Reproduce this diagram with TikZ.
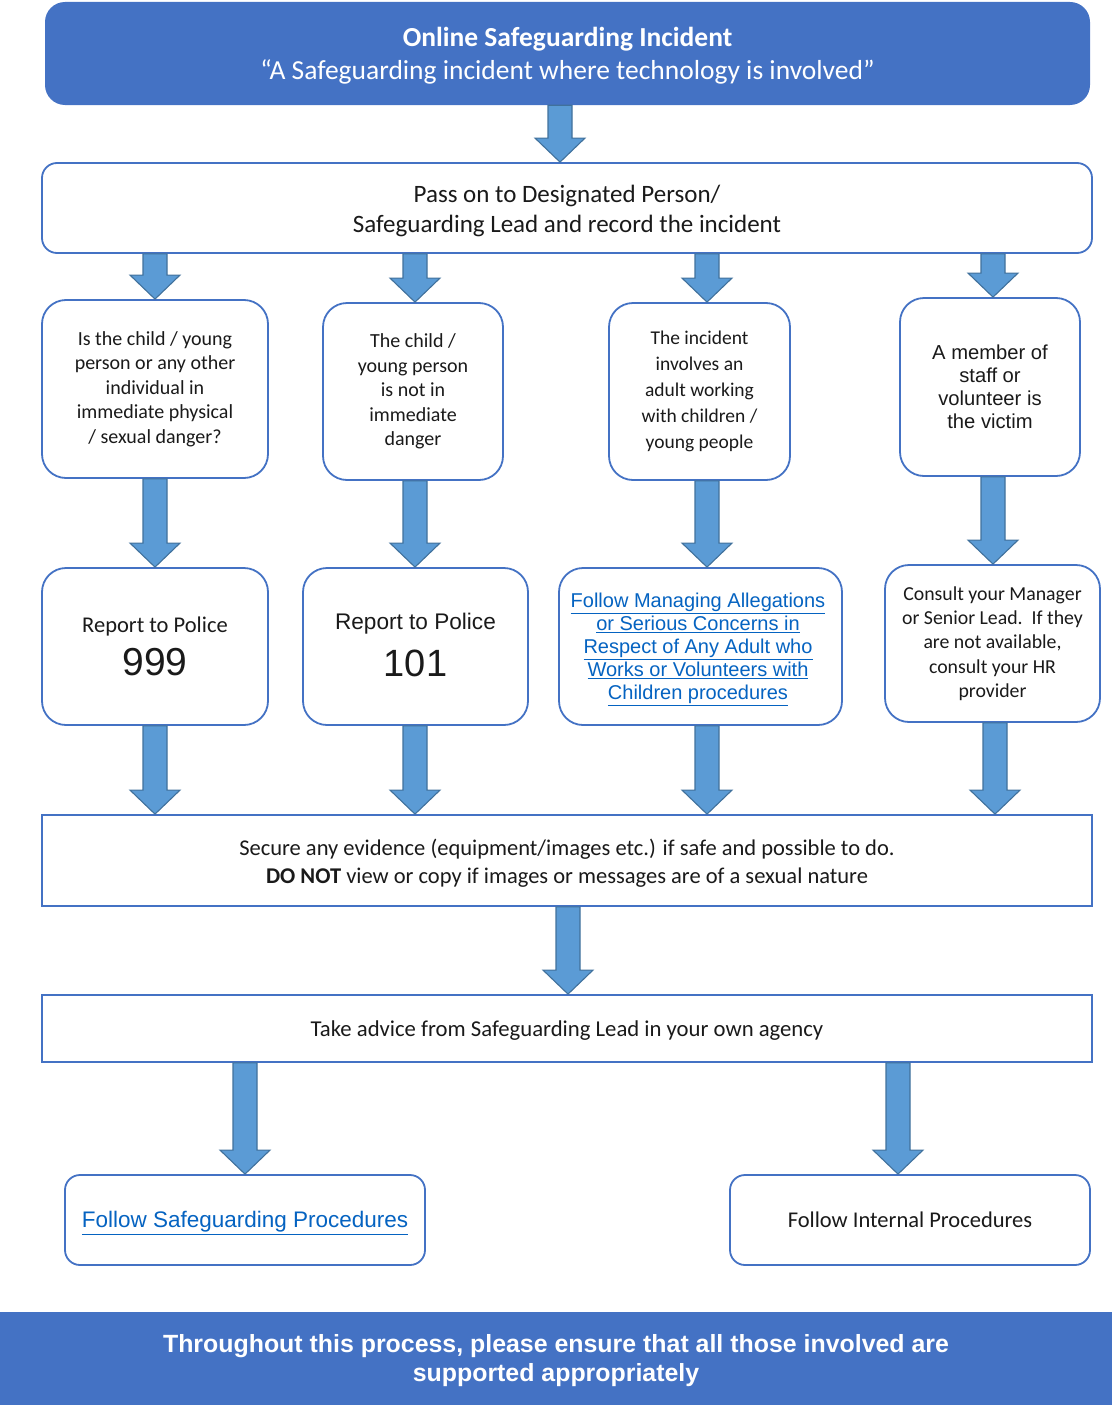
\documentclass[tikz,border=0pt]{standalone}
\usepackage{fontspec}
\setmainfont{Carlito}
\newfontfamily\arial{Liberation Sans}
\usetikzlibrary{calc}
\definecolor{hdr}{HTML}{4472C4}
\definecolor{arrfill}{HTML}{5B9BD5}
\definecolor{arrline}{HTML}{41719C}
\definecolor{lnk}{HTML}{0563C1}
\definecolor{txt}{HTML}{1A1A1A}
\tikzset{
  box/.style={draw=hdr, line width=1.8pt, fill=white, rounded corners=24pt, inner sep=0pt, align=center, text=txt},
  smallround/.style={rounded corners=15pt},
  sqbox/.style={draw=hdr, line width=1.8pt, fill=white, sharp corners, inner sep=0pt, align=center, text=txt},
  banner/.style={fill=hdr, draw=none, inner sep=0pt, align=center, text=white},
  lbl/.style={inner sep=0pt, align=center, text=txt},
  blockarrow/.style={fill=arrfill, draw=arrline, line width=1.1pt, line join=miter},
}
% #1 x position, #2 start node, #3 end node
\newcommand\blockarrow[3]{%
  \path[blockarrow] let \p1=(#2.south), \p2=(#3.north) in
    (#1pt-12pt,\y1) -- (#1pt+12pt,\y1) -- (#1pt+12pt,\y2+24pt) -- (#1pt+25pt,\y2+24pt)
    -- (#1pt,\y2) -- (#1pt-25pt,\y2+24pt) -- (#1pt-12pt,\y2+24pt) -- cycle;}
\newcommand\lk[1]{\underline{#1}}
\begin{document}
\begin{tikzpicture}[x=1pt,y=-1pt]
\useasboundingbox (0,0) rectangle (1112,1405);
% header
\node[banner, rounded corners=20pt, minimum width=1045pt, minimum height=103pt] (hdr) at (567.5,53.5) {};
\node[lbl, text=white, font=\fontsize{27.5}{33}\selectfont] (hdrt) at (567.5,56)
  {\textbf{Online Safeguarding Incident}\\“A Safeguarding incident where technology is involved”};
% pass on
\node[box, smallround, minimum width=1050pt, minimum height=90pt] (pass) at (567,208) {};
\node[lbl, font=\fontsize{25}{30}\selectfont] (passt) at (567,211)
  {Pass on to Designated Person/\\Safeguarding Lead and record the incident};
% row 3
\node[box, minimum width=226pt, minimum height=178pt, font=\fontsize{20}{24.5}\selectfont] (qa) at (155,389)
  {Is the child / young\\person or any other\\individual in\\immediate physical\\/ sexual danger?};
\node[box, minimum width=180pt, minimum height=177pt, font=\fontsize{20}{24.5}\selectfont] (qb) at (413,391.5)
  {The child /\\young person\\is not in\\immediate\\danger};
\node[box, minimum width=181pt, minimum height=177pt, font=\fontsize{19.5}{26}\selectfont] (qc) at (699.5,391.5)
  {The incident\\involves an\\adult working\\with children /\\young people};
\node[box, minimum width=180pt, minimum height=178pt, font=\arial\fontsize{20.2}{23}\selectfont] (qd) at (990,387)
  {A member of\\staff or\\volunteer is\\the victim};
% row 4
\node[box, minimum width=226pt, minimum height=157pt] (ra) at (155,646.5) {};
\node[lbl, font=\fontsize{22.5}{26}\selectfont] (ra1) at (155,626) {Report to Police};
\node[lbl, font=\arial\fontsize{39}{44}\selectfont] (ra2) at (155,662) {999};
\node[box, minimum width=225pt, minimum height=157pt] (rb) at (415.5,646.5) {};
\node[lbl, font=\arial\fontsize{22.6}{26}\selectfont] (rb1) at (415.5,624) {Report to Police};
\node[lbl, font=\arial\fontsize{38}{44}\selectfont] (rb2) at (415.5,663) {101};
\node[box, minimum width=283pt, minimum height=157pt] (rc) at (700.5,646.5) {};
\node[lbl, text=lnk, font=\arial\fontsize{20}{23}\selectfont] (rct) at (698,649)
  {\lk{Follow Managing Allegations}\\\lk{or Serious Concerns in}\\\lk{Respect of Any Adult who}\\\lk{Works or Volunteers with}\\\lk{Children procedures}};
\node[box, minimum width=215pt, minimum height=157pt, font=\fontsize{19.8}{24.3}\selectfont] (rd) at (992.5,643.5)
  {Consult your Manager\\or Senior Lead.\ \ If they\\are not available,\\consult your HR\\provider};
% secure
\node[sqbox, minimum width=1050pt, minimum height=91pt] (sec) at (567,860.5) {};
\node[lbl, font=\fontsize{22.5}{28}\selectfont] (sect) at (567,863)
  {Secure any evidence (equipment/images etc.) if safe and possible to do.\\\textbf{DO NOT} view or copy if images or messages are of a sexual nature};
\node[sqbox, minimum width=1050pt, minimum height=67pt] (adv) at (567,1028.5) {};
\node[lbl, font=\fontsize{22.7}{26}\selectfont] (advt) at (567,1031)
  {Take advice from Safeguarding Lead in your own agency};
\node[box, smallround, minimum width=360pt, minimum height=90pt] (fsp) at (245,1220) {};
\node[lbl, text=lnk, font=\arial\fontsize{22.5}{26}\selectfont] (fspt) at (245,1223)
  {\lk{Follow Safeguarding Procedures}};
\node[box, smallround, minimum width=360pt, minimum height=90pt, font=\fontsize{22.5}{26}\selectfont] (fip) at (910,1220)
  {Follow Internal Procedures};
% banner
\node[banner, minimum width=1112pt, minimum height=93pt] (ban) at (556,1358.5) {};
\node[lbl, text=white, font=\arial\bfseries\fontsize{24.9}{29}\selectfont] (bant) at (556,1361)
  {Throughout this process, please ensure that all those involved are\\supported appropriately};
% arrows
\blockarrow{560}{hdr}{pass}
\blockarrow{155}{pass}{qa}
\blockarrow{415}{pass}{qb}
\blockarrow{707}{pass}{qc}
\blockarrow{993}{pass}{qd}
\blockarrow{155}{qa}{ra}
\blockarrow{415}{qb}{rb}
\blockarrow{707}{qc}{rc}
\blockarrow{993}{qd}{rd}
\blockarrow{155}{ra}{sec}
\blockarrow{415}{rb}{sec}
\blockarrow{707}{rc}{sec}
\blockarrow{995}{rd}{sec}
\blockarrow{568}{sec}{adv}
\blockarrow{245}{adv}{fsp}
\blockarrow{898}{adv}{fip}
\end{tikzpicture}
\end{document}
